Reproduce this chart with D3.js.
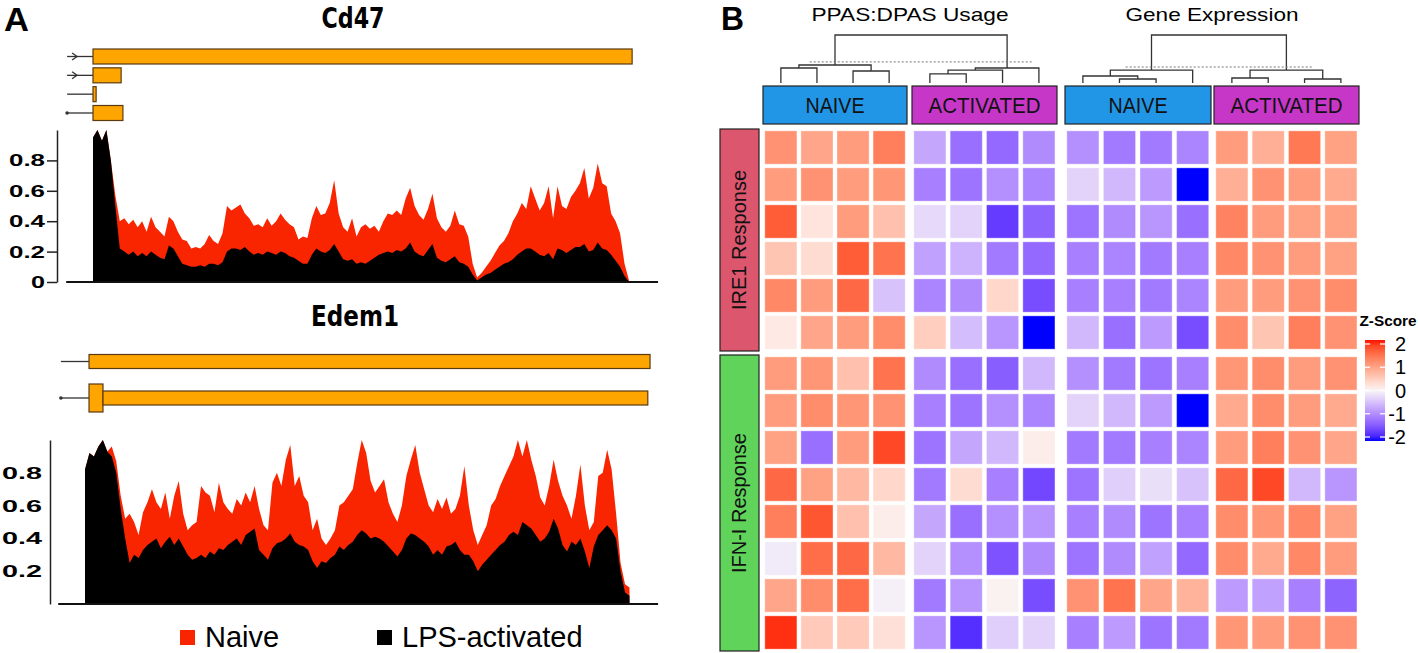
<!DOCTYPE html>
<html><head><meta charset="utf-8">
<script src="https://cdn.jsdelivr.net/npm/d3@7"></script>
<style>body{margin:0;background:#fff}svg{display:block}</style>
</head><body>
<svg id="c" width="1418" height="653"></svg>
<script>
// ---------------- DATA ----------------
// Panel A: coverage sampled at evenly spaced bins along each transcript
const cd47Naive = [0.95,1.0,0.93,1.0,0.8,0.57,0.4,0.42,0.38,0.41,0.36,0.4,0.33,0.43,0.36,0.33,0.3,0.43,0.4,0.33,
0.28,0.27,0.22,0.23,0.22,0.25,0.31,0.27,0.25,0.32,0.5,0.47,0.49,0.51,0.45,0.42,0.37,0.38,0.36,0.42,
0.37,0.4,0.45,0.41,0.38,0.36,0.28,0.3,0.29,0.42,0.5,0.44,0.45,0.52,0.67,0.45,0.36,0.33,0.42,0.3,
0.36,0.38,0.35,0.37,0.33,0.4,0.45,0.44,0.47,0.44,0.55,0.62,0.5,0.44,0.41,0.48,0.58,0.42,0.36,0.33,
0.37,0.47,0.38,0.37,0.3,0.12,0.03,0.06,0.1,0.14,0.19,0.24,0.27,0.32,0.4,0.45,0.52,0.48,0.63,0.55,
0.47,0.52,0.63,0.42,0.63,0.5,0.48,0.56,0.6,0.65,0.75,0.55,0.62,0.78,0.65,0.63,0.45,0.4,0.32,0.12,0.01];
const cd47LPS = [0.95,1.0,0.93,1.0,0.8,0.5,0.22,0.2,0.18,0.2,0.17,0.19,0.17,0.2,0.18,0.16,0.15,0.24,0.22,0.17,
0.12,0.11,0.1,0.1,0.11,0.1,0.12,0.12,0.11,0.13,0.2,0.22,0.22,0.21,0.23,0.2,0.18,0.19,0.18,0.2,
0.19,0.18,0.2,0.19,0.17,0.16,0.14,0.12,0.12,0.18,0.22,0.2,0.19,0.21,0.25,0.2,0.15,0.14,0.15,0.12,
0.13,0.12,0.14,0.16,0.18,0.19,0.2,0.19,0.21,0.2,0.22,0.26,0.2,0.18,0.17,0.21,0.25,0.16,0.14,0.13,
0.15,0.17,0.13,0.12,0.1,0.05,0.01,0.03,0.05,0.06,0.08,0.1,0.12,0.13,0.15,0.18,0.2,0.22,0.22,0.2,
0.18,0.17,0.19,0.15,0.22,0.21,0.19,0.21,0.23,0.23,0.25,0.2,0.21,0.26,0.22,0.21,0.18,0.14,0.1,0.04,0.0];
const edem1Naive = [0.82,0.92,0.9,0.96,1.0,0.93,0.96,0.87,0.66,0.52,0.55,0.5,0.42,0.56,0.62,0.7,0.62,0.58,0.68,0.52,
0.66,0.75,0.55,0.45,0.48,0.5,0.72,0.68,0.66,0.56,0.74,0.62,0.58,0.55,0.64,0.6,0.68,0.62,0.72,0.58,
0.48,0.45,0.74,0.8,0.72,0.88,0.97,0.72,0.78,0.66,0.62,0.45,0.52,0.4,0.36,0.4,0.45,0.6,0.62,0.66,
0.7,0.86,1.0,0.92,0.75,0.68,0.72,0.76,0.62,0.55,0.5,0.6,0.78,0.88,0.97,0.8,0.7,0.6,0.56,0.64,
0.58,0.65,0.55,0.58,0.66,0.84,0.6,0.45,0.36,0.42,0.48,0.6,0.64,0.72,0.78,0.84,0.9,1.0,0.9,1.0,
0.88,0.78,0.65,0.6,0.72,0.88,0.75,0.66,0.6,0.52,0.66,0.85,0.6,0.45,0.5,0.78,0.8,0.94,0.82,0.55,
0.25,0.12,0.1];
const edem1LPS = [0.82,0.92,0.9,0.96,1.0,0.93,0.9,0.8,0.58,0.4,0.25,0.3,0.28,0.33,0.36,0.38,0.4,0.34,0.38,0.41,
0.36,0.4,0.35,0.3,0.27,0.28,0.3,0.28,0.32,0.3,0.34,0.33,0.36,0.38,0.4,0.36,0.42,0.44,0.46,0.33,
0.3,0.27,0.34,0.37,0.38,0.4,0.43,0.38,0.36,0.35,0.33,0.26,0.22,0.26,0.25,0.28,0.3,0.35,0.33,0.36,
0.38,0.42,0.45,0.43,0.4,0.41,0.4,0.38,0.35,0.32,0.29,0.33,0.4,0.43,0.42,0.4,0.38,0.35,0.3,0.33,
0.3,0.35,0.36,0.38,0.33,0.3,0.3,0.26,0.2,0.24,0.27,0.3,0.33,0.36,0.38,0.42,0.44,0.42,0.5,0.48,
0.46,0.42,0.38,0.4,0.44,0.52,0.46,0.36,0.32,0.38,0.36,0.4,0.32,0.22,0.35,0.42,0.45,0.48,0.45,0.4,
0.2,0.07,0.05];
const covTicks = [0, 0.2, 0.4, 0.6, 0.8];
const genes = ["Cd47", "Edem1"];
const legendLabels = ["Naive", "LPS-activated"];

// Transcript models (coordinates in coverage-bin units)
const cd47Models = [
  {line: -5.8, mark: "arrow", segs: [[0, 120.7, "exon"]]},
  {line: -5.8, mark: "arrow", segs: [[0, 6.3, "exon"]]},
  {line: -5.8, mark: "none",  segs: [[0, 0.7, "exon"]]},
  {line: -5.8, mark: "dot",   segs: [[0, 6.7, "exon"]]}
];
const edem1Models = [
  {line: -5.4, mark: "none", segs: [[0.9, 126.6, "exon"]]},
  {line: -5.4, mark: "dot",  segs: [[0.9, 4.03, "thick"], [4.03, 126.1, "exon"]]}
];

// Panel B: heatmap z-scores (16 columns: 8 PPAS:DPAS usage, 8 gene expression)
const blockTitles = ["PPAS:DPAS Usage", "Gene Expression"];
const columnGroups = ["NAIVE", "ACTIVATED", "NAIVE", "ACTIVATED"];
const rowGroups = ["IRE1 Response", "IFN-I Response"];
const ire1Z = [
  [1.1, 0.9, 1.0, 1.3, -0.7, -1.2, -1.25, -0.95, -0.9, -1.1, -1.1, -1.0, 1.0, 0.8, 1.35, 0.95],
  [1.0, 1.1, 1.0, 1.05, -1.05, -1.15, -0.9, -1.0, -0.3, -0.55, -0.8, -2.0, 0.8, 1.1, 1.0, 0.85],
  [1.6, 0.2, 1.0, 0.6, -0.25, -0.3, -1.65, -1.3, -1.15, -0.95, -0.85, -1.2, 1.25, 1.0, 0.95, 0.95],
  [0.55, 0.3, 1.6, 1.4, -0.75, -0.6, -1.1, -1.25, -1.05, -1.0, -1.1, -1.05, 1.2, 1.1, 1.0, 0.95],
  [1.2, 1.0, 1.5, -0.45, -1.0, -0.95, 0.35, -1.5, -1.05, -1.05, -1.1, -1.0, 1.0, 1.0, 1.1, 1.15],
  [0.15, 0.9, 1.0, 1.15, 0.45, -0.5, -0.85, -2.0, -0.55, -1.2, -0.8, -1.5, 1.15, 0.55, 1.3, 1.1]
];
const ifnZ = [
  [1.0, 1.05, 0.6, 1.4, -0.95, -1.2, -1.35, -0.55, -0.9, -1.1, -1.15, -1.05, 1.05, 1.15, 1.0, 1.1],
  [1.0, 1.15, 1.05, 1.1, -1.05, -1.15, -0.9, -1.0, -0.3, -0.55, -0.8, -2.0, 0.85, 1.15, 1.0, 0.85],
  [0.95, -1.2, 1.0, 1.75, -1.15, -0.7, -0.55, 0.1, -1.1, -1.1, -1.05, -1.0, 1.0, 1.3, 1.1, 0.9],
  [1.5, 0.95, 0.7, 0.35, -1.1, 0.3, -1.05, -1.55, -1.15, -0.35, -0.2, -0.45, 1.5, 1.75, -0.55, -0.85],
  [1.3, 1.65, 0.6, 0.1, -0.7, -1.2, -0.9, -0.85, -1.05, -0.95, -1.15, -1.05, 1.15, 1.05, 1.2, 0.95],
  [-0.1, 1.45, 1.5, 0.7, -0.3, -0.9, -1.45, -0.95, -1.15, -0.95, -0.75, -1.25, 1.15, 0.85, 1.2, 1.0],
  [0.9, 1.15, 1.45, -0.05, -1.1, -0.85, 0.05, -1.5, 1.1, 1.4, 0.9, 0.75, -0.8, -0.75, -1.05, -1.3],
  [1.9, 0.5, 0.5, 0.25, -0.85, -1.75, -0.35, -0.3, -1.05, -0.8, -1.15, -1.1, 1.05, 1.0, 1.1, 1.1]
];
// Dendrograms: [height, left, right]; leaves = column index within block
const ppasTree = [1.0, [0.375, [0.3125, 0, 1], [0.25, 2, 3]], [0.3125, [0.27, [0.19, 4, 5], 6], 7]];
const exprTree = [1.0, [0.27, [0.146, 0, [0.083, 1, 2]], 3], [0.27, [0.104, 4, 5], [0.083, 6, 7]]];
const cutHeights = [0.44, 0.333];
const cutSpans = [[0.8, 6.8], [1.17, 6.2]];
const zTicks = [2, 1, 0, -1, -2];

// ---------------- DRAWING ----------------
const svg = d3.select("#c");
const NARROW = "'Liberation Sans Narrow','DejaVu Sans Condensed','Liberation Sans',Arial,sans-serif";
const SANS = "'Liberation Sans',Arial,Helvetica,sans-serif";
const RED = "#f92400";

function text(s, x, y, o) {
  const t = svg.append("text").attr("x", x).attr("y", y).text(s)
    .attr("font-family", o.family || SANS).attr("font-size", o.size)
    .attr("font-weight", o.weight || "normal").attr("fill", o.fill || "#000")
    .attr("text-anchor", o.anchor || "start");
  if (o.len) t.attr("textLength", o.len).attr("lengthAdjust", "spacingAndGlyphs");
  if (o.rotate) t.attr("transform", `rotate(${o.rotate},${x},${y})`);
  return t;
}

// Panel letters
text("A", 4, 31, {family: SANS, size: 34, weight: "bold", len: 25});
text("B", 721, 30, {family: SANS, size: 33, weight: "bold", len: 23});

// Coverage panels
const panels = [
  {name: genes[0], naive: cd47Naive, lps: cd47LPS, models: cd47Models,
   xr: [93, 629], yr: [282, 130], titleY: 28, titleX: 353, titleLen: 63,
   axisX: 57, tickSize: 10, pad: 2, base: [-6, 126.5], modelY: [56.5, 113], exonH: 15,
   labelLens: {"0": 14, other: 36}},
  {name: genes[1], naive: edem1Naive, lps: edem1LPS, models: edem1Models,
   xr: [85, 629.5], yr: [604, 440], titleY: 326, titleX: 355, titleLen: 88,
   axisX: 50, tickSize: 0, pad: 8, base: [-6, 128.4], modelY: [361.5, 398], exonH: 14,
   labelLens: {"0": 14, other: 40}}
];

panels.forEach((p, pi) => {
  const x = d3.scaleLinear().domain([0, p.naive.length - 1]).range(p.xr);
  const y = d3.scaleLinear().domain([0, 1]).range(p.yr);
  text(p.name, p.titleX, p.titleY, {family: NARROW, size: 29, weight: "bold", anchor: "middle", len: p.titleLen});

  // transcript models
  const ym = d3.scalePoint().domain(d3.range(p.models.length)).range(p.modelY);
  p.models.forEach((m, r) => {
    const cy = ym(r);
    svg.append("line").attr("x1", x(m.line)).attr("x2", x(m.segs[0][0])).attr("y1", cy).attr("y2", cy)
      .attr("stroke", "#333").attr("stroke-width", 1.3);
    if (m.mark === "arrow") {
      const tx = x(m.line) + 10;
      svg.append("path").attr("d", `M${tx-5},${cy-3.5}L${tx},${cy}L${tx-5},${cy+3.5}`)
        .attr("fill", "none").attr("stroke", "#333").attr("stroke-width", 1.3);
    } else if (m.mark === "dot") {
      svg.append("circle").attr("cx", x(m.line)).attr("cy", cy).attr("r", 1.8).attr("fill", "#333");
    }
    m.segs.forEach(s => {
      const h = s[2] === "thick" ? 28 : p.exonH;
      svg.append("rect").attr("x", x(s[0])).attr("y", cy - h / 2)
        .attr("width", Math.max(1, x(s[1]) - x(s[0]))).attr("height", h)
        .attr("fill", "#ffa500").attr("stroke", "#5b3a12").attr("stroke-width", 1.2);
    });
  });

  // areas
  const area = d3.area().x((d, i) => x(i)).y0(y(0)).y1(d => y(d));
  svg.append("path").attr("d", area(p.naive)).attr("fill", RED);
  svg.append("path").attr("d", area(p.lps)).attr("fill", "#000");

  // baseline
  svg.append("line").attr("x1", x(p.base[0])).attr("x2", x(p.base[1])).attr("y1", y(0)).attr("y2", y(0))
    .attr("stroke", "#111").attr("stroke-width", 2);

  // y axis
  const ax = d3.axisLeft(y).tickValues(pi === 0 ? covTicks : covTicks.slice(1))
    .tickFormat(d => d === 0 ? "0" : d3.format(".1f")(d))
    .tickSize(p.tickSize).tickSizeOuter(0).tickPadding(p.pad);
  const g = svg.append("g").attr("transform", `translate(${p.axisX},0)`).call(ax);
  g.select(".domain").attr("stroke", "#222").attr("stroke-width", 1.5);
  g.selectAll(".tick line").attr("stroke", "#222").attr("stroke-width", 1.5);
  g.selectAll(".tick text").attr("font-family", SANS).attr("font-size", 17).attr("font-weight", "bold")
    .attr("fill", "#000").attr("lengthAdjust", "spacingAndGlyphs")
    .attr("textLength", d => d === 0 ? p.labelLens["0"] : p.labelLens.other);
});

// legend
const legColors = [RED, "#000"];
const legX = [180, 377];
legendLabels.forEach((l, i) => {
  svg.append("rect").attr("x", legX[i]).attr("y", 630).attr("width", 15).attr("height", 15).attr("fill", legColors[i]);
  text(l, legX[i] + 25, 647, {size: 29});
});

// ---------------- Panel B ----------------
const color = d3.scaleLinear().domain([-2, 0, 2]).range(["#0000ff", "#f8f6f7", "#ff1000"])
  .interpolate(d3.interpolateLab).clamp(true);

const groupRanges = [[763, 907], [912, 1057], [1065, 1211], [1214, 1359]];
const colBands = groupRanges.map(r => d3.scaleBand().domain(d3.range(4)).range(r).paddingInner(0.11).paddingOuter(0.05));
const colX = c => colBands[Math.floor(c / 4)](c % 4);
const bw = colBands[0].bandwidth();
const rowRanges = [[129, 351], [355, 651]];
const zData = [ire1Z, ifnZ];
const rowBands = zData.map((m, i) => d3.scaleBand().domain(d3.range(m.length)).range(rowRanges[i]).paddingInner(0.1).paddingOuter(0.05));

// cells
zData.forEach((m, gi) => {
  const rb = rowBands[gi];
  m.forEach((row, r) => {
    row.forEach((v, c) => {
      svg.append("rect").attr("x", colX(c)).attr("y", rb(r)).attr("width", bw).attr("height", rb.bandwidth())
        .attr("fill", color(v)).attr("stroke", "#ffffff").attr("stroke-opacity", 0.35).attr("stroke-width", 1);
    });
  });
});

// row annotations
const rowColors = ["#dc566e", "#5fd35a"];
rowGroups.forEach((lab, i) => {
  const r = rowRanges[i];
  svg.append("rect").attr("x", 720).attr("y", r[0]).attr("width", 39).attr("height", r[1] - r[0])
    .attr("fill", rowColors[i]).attr("stroke", "#222").attr("stroke-width", 1.2);
  const cy = (r[0] + r[1]) / 2;
  text(lab, 746, cy, {size: 20, anchor: "middle", rotate: -90, fill: "#111", len: 140});
});

// column annotations
const colColors = {NAIVE: "#2196e6", ACTIVATED: "#c637c8"};
const colLens = {NAIVE: 59, ACTIVATED: 112};
columnGroups.forEach((lab, i) => {
  const r = groupRanges[i];
  svg.append("rect").attr("x", r[0]).attr("y", 86).attr("width", r[1] - r[0]).attr("height", 38)
    .attr("fill", colColors[lab]).attr("stroke", "#222").attr("stroke-width", 1.2);
  text(lab, (r[0] + r[1]) / 2, 113, {size: 22, anchor: "middle", fill: "#111", len: colLens[lab]});
});

// titles
const titleLens = [197, 173];
blockTitles.forEach((t, b) => {
  const cx = (groupRanges[2 * b][0] + groupRanges[2 * b + 1][1]) / 2;
  text(t, cx, 21, {size: 19, anchor: "middle", len: titleLens[b]});
});

// dendrograms
const yD = d3.scaleLinear().domain([0, 1]).range([83, 35]);
[ppasTree, exprTree].forEach((tree, b) => {
  const leafX = f => {
    const i0 = Math.floor(f), i1 = Math.min(7, i0 + 1), t = f - i0;
    const a = colX(b * 8 + i0) + bw / 2, c = colX(b * 8 + i1) + bw / 2;
    return a + (c - a) * t;
  };
  const g = svg.append("g");
  function walk(n) {
    if (typeof n === "number") return {x: leafX(n), h: 0};
    const a = walk(n[1]), c = walk(n[2]);
    g.append("path").attr("d", `M${a.x},${yD(a.h)}V${yD(n[0])}H${c.x}V${yD(c.h)}`)
      .attr("fill", "none").attr("stroke", "#333").attr("stroke-width", 1.3);
    return {x: (a.x + c.x) / 2, h: n[0]};
  }
  walk(tree);
  g.append("line").attr("x1", leafX(cutSpans[b][0])).attr("x2", leafX(cutSpans[b][1]))
    .attr("y1", yD(cutHeights[b])).attr("y2", yD(cutHeights[b]))
    .attr("stroke", "#777").attr("stroke-width", 1).attr("stroke-dasharray", "2,2");
});

// colour legend
text("Z-Score", 1388, 326, {size: 15, weight: "bold", anchor: "middle", len: 57});
const yZ = d3.scaleLinear().domain([-2, 2]).range([437, 344]);
const grad = svg.append("defs").append("linearGradient").attr("id", "zg")
  .attr("x1", 0).attr("y1", 0).attr("x2", 0).attr("y2", 1);
d3.range(0, 1.0001, 0.05).forEach(t => {
  grad.append("stop").attr("offset", t).attr("stop-color", color(2 - 4 * t));
});
svg.append("rect").attr("x", 1365).attr("y", yZ(2) - 4).attr("width", 20).attr("height", yZ(-2) - yZ(2) + 8)
  .attr("fill", "url(#zg)");
zTicks.forEach(v => {
  [[1365, 1370], [1380, 1385]].forEach(s => {
    svg.append("line").attr("x1", s[0]).attr("x2", s[1]).attr("y1", yZ(v)).attr("y2", yZ(v))
      .attr("stroke", "#fff").attr("stroke-width", 1.2);
  });
  text(String(v), 1406, yZ(v) + 7, {size: 20, anchor: "end"});
});
</script>
</body></html>
